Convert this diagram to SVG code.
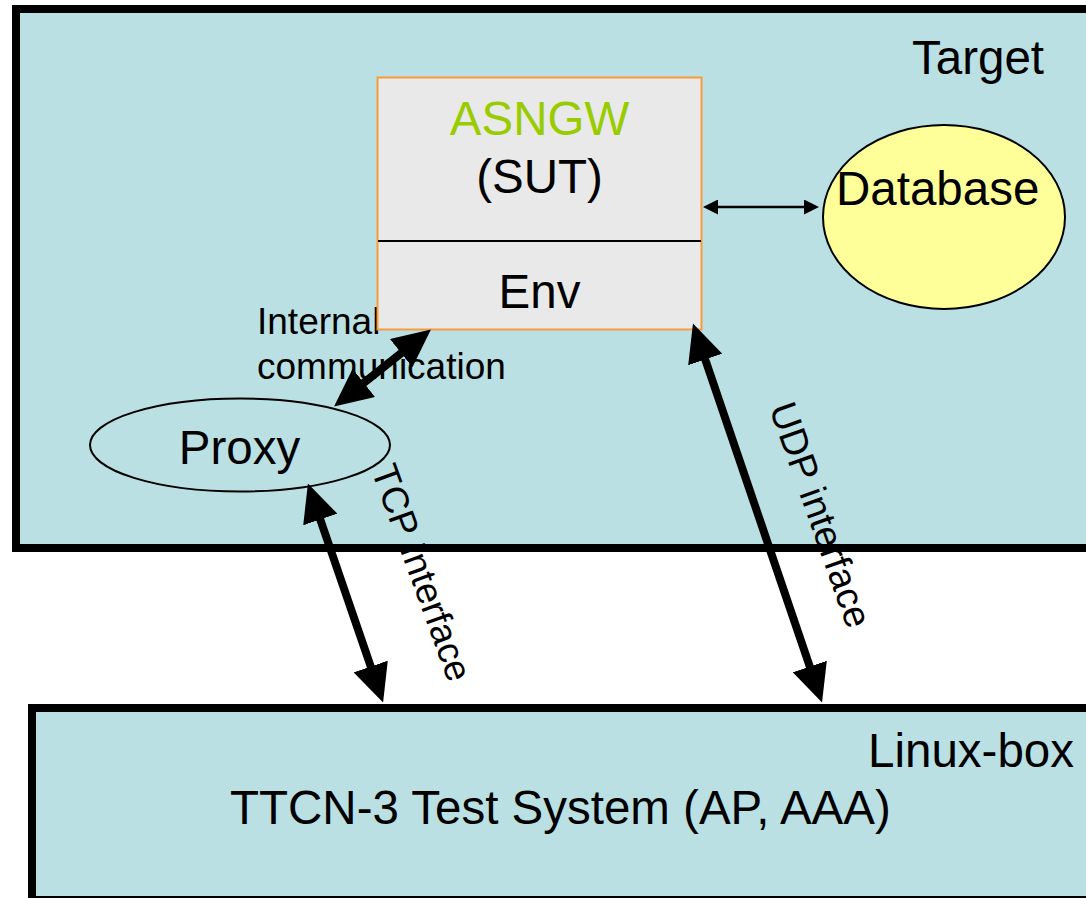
<svg xmlns="http://www.w3.org/2000/svg" width="1086" height="898" viewBox="0 0 1086 898">
<style>
text{font-family:"Liberation Sans",Arial,sans-serif;fill:#000}
.big{font-size:47.5px}
.mid{font-size:37px}
.box{fill:#bae0e3;stroke:#000;stroke-width:8}
.thick{stroke:#000;stroke-width:8;fill:none}
.thin{stroke:#000;stroke-width:2.5;fill:none}
</style>
<defs>
<marker id="bigHead" markerUnits="userSpaceOnUse" viewBox="0 0 38 36" refX="10" refY="18" markerWidth="38" markerHeight="36" orient="auto-start-reverse">
<path d="M0,0 L38,18 L0,36 Z" fill="#000"/>
</marker>
<marker id="smallHead" markerUnits="userSpaceOnUse" viewBox="0 0 15 15" refX="4" refY="7.5" markerWidth="15" markerHeight="15" orient="auto-start-reverse">
<path d="M0,0 L15,7.5 L0,15 Z" fill="#000"/>
</marker>
</defs>
<rect width="1086" height="898" fill="#fff"/>
<g id="target">
<rect class="box" x="16" y="9" width="1100" height="539"/>
<text class="big" x="912" y="74">Target</text>
</g>
<g id="linuxbox">
<rect class="box" x="32" y="708" width="1100" height="192"/>
<text class="big" x="1074" y="767" text-anchor="end">Linux-box</text>
<text class="big" x="230" y="824">TTCN-3 Test System (AP, AAA)</text>
</g>
<g id="labels">
<text class="mid" x="257" y="334">Internal</text>
<text class="mid" x="257" y="379">communication</text>
<text class="mid" transform="translate(371,470) rotate(70)">TCP Interface</text>
<text class="mid" transform="translate(769,408) rotate(70.5)" style="font-size:38px">UDP interface</text>
</g>
<g id="asngw">
<rect x="377.5" y="77.5" width="324" height="252" fill="#e9e9e9" stroke="#f79b3c" stroke-width="2"/>
<line x1="378" y1="241" x2="701" y2="241" stroke="#000" stroke-width="2"/>
<text class="big" x="539.5" y="135" text-anchor="middle" style="fill:#99cc00">ASNGW</text>
<text class="big" x="539.5" y="193" text-anchor="middle">(SUT)</text>
<text class="big" x="539.5" y="308" text-anchor="middle">Env</text>
</g>
<g id="database">
<ellipse cx="944" cy="217" rx="121" ry="92" fill="#ffff99" stroke="#000" stroke-width="2"/>
<text class="big" x="836" y="205">Database</text>
</g>
<g id="proxy">
<ellipse cx="240" cy="445" rx="150" ry="46.5" fill="none" stroke="#000" stroke-width="2"/>
<text class="big" x="239.5" y="464" text-anchor="middle">Proxy</text>
</g>
<g id="connectors">
<line class="thin" x1="714" y1="207" x2="808" y2="207" marker-start="url(#smallHead)" marker-end="url(#smallHead)"/>
<line class="thick" x1="356" y1="389" x2="409" y2="347" marker-start="url(#bigHead)" marker-end="url(#bigHead)"/>
<line class="thick" x1="317" y1="510" x2="374" y2="676" marker-start="url(#bigHead)" marker-end="url(#bigHead)"/>
<line class="thick" x1="702" y1="350" x2="813" y2="676" marker-start="url(#bigHead)" marker-end="url(#bigHead)"/>
</g>
</svg>
